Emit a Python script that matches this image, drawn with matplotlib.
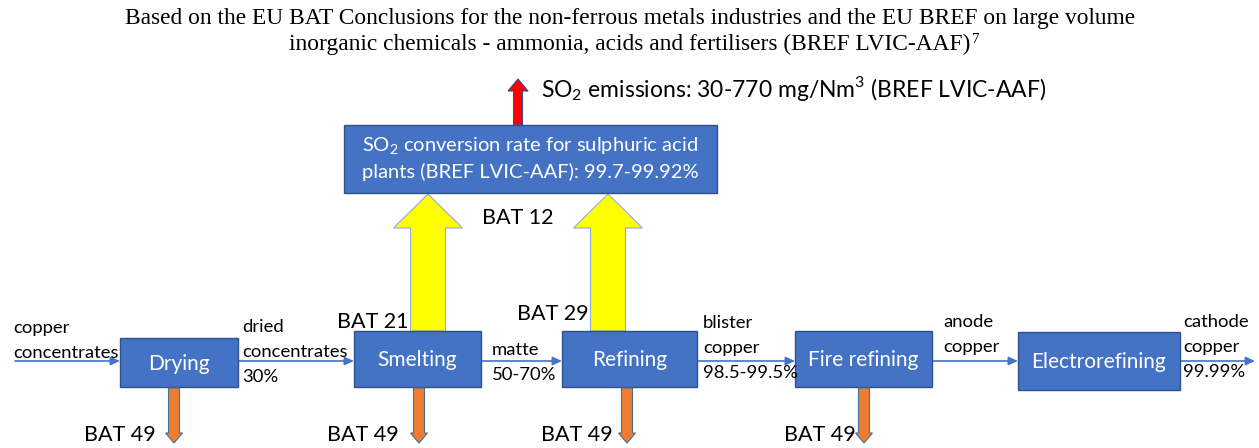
import matplotlib
matplotlib.use("Agg")
import matplotlib.pyplot as plt
from matplotlib.patches import Rectangle, FancyArrow

# ---------------- data ----------------
title_lines = [
    "Based on the EU BAT Conclusions for the non-ferrous metals industries and the EU BREF on large volume",
    "inorganic chemicals - ammonia, acids and fertilisers (BREF LVIC-AAF)",
]
title_footnote = "7"
process_steps = ["Drying", "Smelting", "Refining", "Fire refining", "Electrorefining"]
flow_labels = [
    ["copper", "concentrates"],
    ["dried", "concentrates", "30%"],
    ["matte", "50-70%"],
    ["blister", "copper", "98.5-99.5%"],
    ["anode", "copper"],
    ["cathode", "copper", "99.99%"],
]
dust_labels = ["BAT 49", "BAT 49", "BAT 49", "BAT 49"]
offgas_labels = ["BAT 21", "BAT 29"]
acid_plant_lines = ["SO$_\\mathregular{2}$ conversion rate for sulphuric acid",
                    "plants (BREF LVIC-AAF): 99.7-99.92%"]
acid_plant_bat = "BAT 12"
emission_label = "SO$_\\mathregular{2}$ emissions: 30-770 mg/Nm$^\\mathregular{3}$ (BREF LVIC-AAF)"

# ---------------- layout (pixel coordinates) ----------------
box_x = [(120, 238), (354, 481), (562, 697), (795, 932), (1018, 1180)]
box_y = [(338, 387), (331, 387), (331, 387), (331, 387), (332, 390)]
flow_y = 361
flow_x = [(15, 120), (238, 354), (481, 562), (697, 795), (932, 1018), (1180, 1255)]
label_pos = [(13, 333), (242, 332), (492, 355), (703, 328), (943, 327), (1183, 327)]
line_step = 25
dust_x = [174, 419, 627, 864]
dust_label_right = [156, 399, 613, 856]
offgas_x = [428, 608]
offgas_label_pos = [(337, 328), (517, 320)]

BLUE = "#4472C4"
EDGE = "#2F528F"
ORANGE = "#ED7D31"
font = "Lato"

fig = plt.figure(figsize=(12.59, 4.48), dpi=100)
ax = fig.add_axes([0, 0, 1, 1])
ax.set_xlim(0, 1259)
ax.set_ylim(448, 0)
ax.axis("off")

# title
title_texts = []
for i, line in enumerate(title_lines):
    t = ax.text(630, 24 + 26 * i, line, ha="center", va="baseline",
                family="Liberation Serif", fontsize=16.8)
    title_texts.append(t)
renderer = fig.canvas.get_renderer()
bb = title_texts[-1].get_window_extent(renderer=renderer)
x_end = ax.transData.inverted().transform((bb.x1, bb.y0))[0]
ax.text(x_end + 1, 43, title_footnote, ha="left", va="baseline",
        family="Liberation Serif", fontsize=11)

# process boxes
for name, (x0, x1), (y0, y1) in zip(process_steps, box_x, box_y):
    ax.add_patch(Rectangle((x0, y0), x1 - x0, y1 - y0, facecolor=BLUE,
                           edgecolor=EDGE, lw=1, zorder=3))
    ax.text((x0 + x1) / 2, (y0 + y1) / 2 + 1, name, ha="center", va="center",
            color="white", family=font, fontsize=15, zorder=4)

# flow arrows
for (x0, x1) in flow_x:
    ax.annotate("", xy=(x1, flow_y), xytext=(x0, flow_y),
                arrowprops=dict(arrowstyle="-|>,head_length=0.55,head_width=0.25",
                                color=BLUE, lw=1.2, shrinkA=0, shrinkB=0), zorder=2)

# flow labels
for lines, (x, y) in zip(flow_labels, label_pos):
    for j, line in enumerate(lines):
        ax.text(x, y + j * line_step, line, ha="left", va="baseline", family=font,
                fontsize=13.3, zorder=5)

# dust arrows (orange)
for x, xr, lab in zip(dust_x, dust_label_right, dust_labels):
    ax.add_patch(FancyArrow(x, 388, 0, 55, width=11, head_width=17, head_length=10,
                            length_includes_head=True, facecolor=ORANGE,
                            edgecolor="#41719C", lw=0.8, zorder=3))
    ax.text(xr, 441, lab, ha="right", va="baseline", family=font, fontsize=15.5)

# off-gas arrows (yellow)
for x in offgas_x:
    ax.add_patch(FancyArrow(x, 331, 0, -137, width=35, head_width=69, head_length=34,
                            length_includes_head=True, facecolor="#FFFF00",
                            edgecolor="#8FAADC", lw=0.8, zorder=2))
for lab, (x, y) in zip(offgas_labels, offgas_label_pos):
    ax.text(x, y, lab, ha="left", va="baseline", family=font, fontsize=15.5, zorder=5)

# acid plant box
ax.add_patch(Rectangle((344, 125), 717 - 344, 193 - 125, facecolor=BLUE,
                       edgecolor=EDGE, lw=1, zorder=3))
for j, line in enumerate(acid_plant_lines):
    ax.text(530, 152 + 26 * j, line, ha="center", va="baseline", color="white",
            family=font, fontsize=14.5, zorder=4)
ax.text(482, 224, acid_plant_bat, ha="left", va="baseline", family=font, fontsize=15.5)

# SO2 emission arrow (red)
ax.add_patch(FancyArrow(518, 125, 0, -46, width=9, head_width=20, head_length=12,
                        length_includes_head=True, facecolor="#FF0000",
                        edgecolor=EDGE, lw=0.8, zorder=2))
ax.text(541, 97, emission_label, ha="left", va="baseline", family=font, fontsize=16.5)

fig.savefig("out.png", dpi=100)
